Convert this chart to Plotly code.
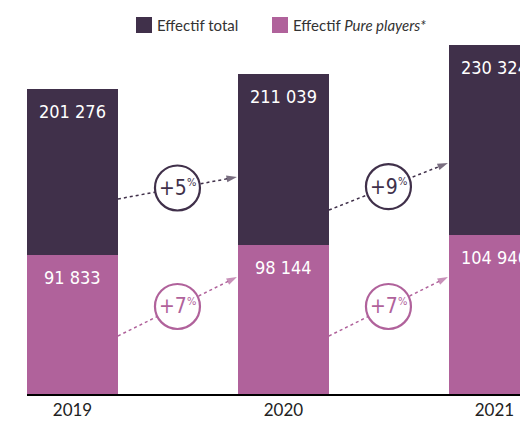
import plotly.graph_objects as go

# ---- data ----
years = ["2019", "2020", "2021"]
total = [201276, 211039, 230324]
pure = [91833, 98144, 104940]
legend_names = ["Effectif total", "Effectif <i>Pure players*</i>"]

# ---- style ----
DARK = "#40304a"
PINK = "#b0629b"
NUM_FONT = "DejaVu Sans Condensed, DejaVu Sans, sans-serif"
TXT_FONT = "Lato, Noto Sans, sans-serif"
BAR_W = 0.431
Y_MAX = 233616
W, H = 520, 423
# vertical positions (data units) of the growth arrows: (start, end)
arrow_y_total = [(128700, 143200), (121400, 152400)]
arrow_y_pure = [(38300, 77200), (38300, 77200)]
CIRCLE_R = 22.5
# legend: square left edges (px from plot left), height above plot
legend_sq_x = [109, 245]
legend_dy = 15

xs = list(range(len(years)))

fig = go.Figure()
fig.add_trace(go.Bar(x=xs, y=total, width=BAR_W, marker_color=DARK,
                     name=legend_names[0], marker_line_width=0))
fig.add_trace(go.Bar(x=xs, y=pure, width=BAR_W, marker_color=PINK,
                     name=legend_names[1], marker_line_width=0))

annotations = []
shapes = []

def fmt(v):
    return f"{v:,}".replace(",", " ")

for i in xs:
    for series in (total, pure):
        annotations.append(dict(x=i, y=series[i], xref="x", yref="y",
                                text=fmt(series[i]), showarrow=False,
                                yanchor="top", yshift=-10,
                                font=dict(family=NUM_FONT, size=18, color="white")))

for series, ys, color in ((total, arrow_y_total, DARK), (pure, arrow_y_pure, PINK)):
    for i in range(len(years) - 1):
        x0 = i + BAR_W / 2
        x1 = i + 1 - BAR_W / 2 - 0.005
        y0, y1 = ys[i]
        fig.add_trace(go.Scatter(
            x=[x0, x1], y=[y0, y1], mode="lines+markers", showlegend=False,
            hoverinfo="skip",
            line=dict(color=color, width=1.5, dash="dot"),
            marker=dict(symbol=["circle", "arrow"], size=[0, 11], color=color,
                        angleref="previous", line_width=0)))
        cx, cy = (x0 + x1) / 2, (y0 + y1) / 2
        shapes.append(dict(type="circle", xref="x", yref="y",
                           xsizemode="pixel", ysizemode="pixel",
                           xanchor=cx, yanchor=cy,
                           x0=-CIRCLE_R, x1=CIRCLE_R, y0=-CIRCLE_R, y1=CIRCLE_R,
                           fillcolor="white", line=dict(color=color, width=2.2),
                           layer="above"))
        pct = round((series[i + 1] / series[i] - 1) * 100)
        annotations.append(dict(x=cx, y=cy, xref="x", yref="y", showarrow=False,
                                text=f"+{pct}", xanchor="right", xshift=11,
                                borderpad=0,
                                font=dict(family=NUM_FONT, size=21, color=color)))
        annotations.append(dict(x=cx, y=cy, xref="x", yref="y", showarrow=False,
                                text="%", xanchor="left", xshift=9, yshift=5,
                                borderpad=0,
                                font=dict(family=NUM_FONT, size=11, color=color)))

# legend drawn as squares + labels above the plot
for sx, name, color in zip(legend_sq_x, legend_names, (DARK, PINK)):
    shapes.append(dict(type="rect", xref="paper", yref="paper",
                       xsizemode="pixel", ysizemode="pixel",
                       xanchor=0, yanchor=1,
                       x0=sx, x1=sx + 16,
                       y0=legend_dy - 8, y1=legend_dy + 8,
                       fillcolor=color, line_width=0))
    annotations.append(dict(xref="paper", yref="paper", x=0, y=1,
                            xshift=sx + 19, yshift=legend_dy,
                            xanchor="left", yanchor="middle", showarrow=False,
                            text=name,
                            font=dict(family=TXT_FONT, size=15, color="#333333")))

fig.update_layout(
    width=W, height=H,
    margin=dict(l=27, r=0, t=40, b=29, pad=0),
    paper_bgcolor="white", plot_bgcolor="white",
    barmode="overlay", bargap=0,
    showlegend=False,
    xaxis=dict(range=[-0.2156, 2.121], tickvals=xs, ticktext=years,
               showgrid=False, zeroline=False, showline=True,
               linecolor="black", linewidth=2, ticks="",
               tickfont=dict(family=TXT_FONT, size=17, color="#222222")),
    yaxis=dict(range=[0, Y_MAX], visible=False, showgrid=False, zeroline=False),
    shapes=shapes, annotations=annotations,
)

fig.write_html("out.html", config={"displayModeBar": False},
               post_script="document.body.style.margin='0';document.body.style.overflow='hidden';")
